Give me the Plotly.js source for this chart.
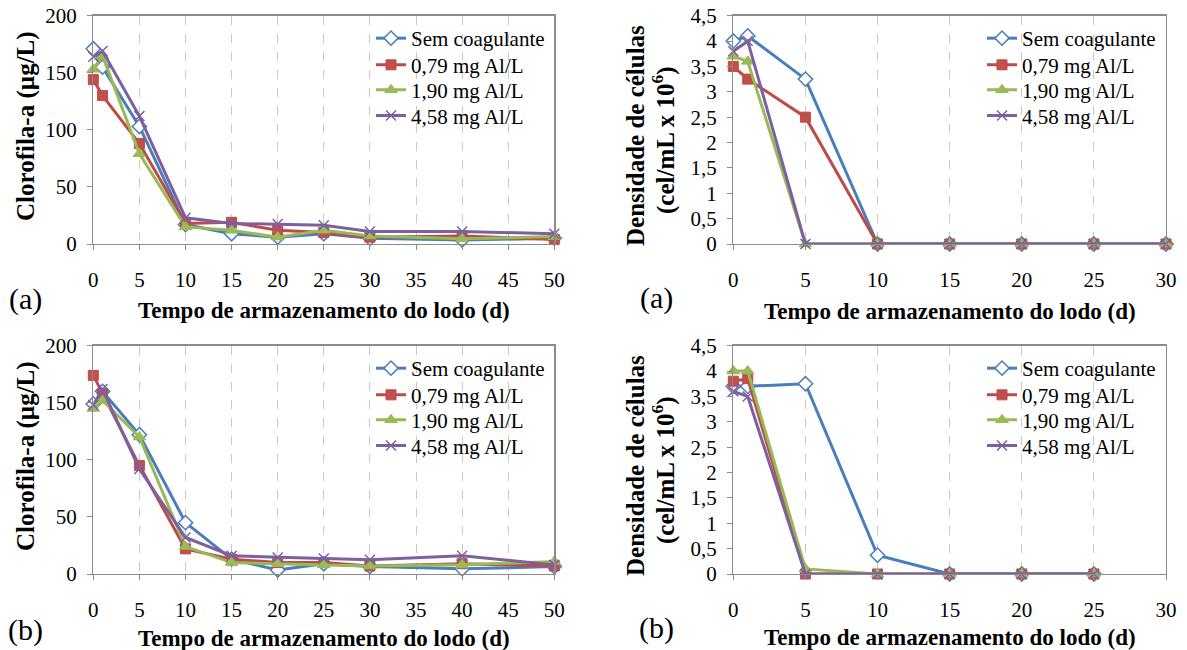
<!DOCTYPE html>
<html>
<head>
<meta charset="utf-8">
<script src="https://cdn.plot.ly/plotly-3.0.1.min.js"></script>
<style>html,body{margin:0;padding:0;background:#fff;}#chart{width:1187px;height:650px;}</style>
</head>
<body>
<div id="chart"></div>
<script>
// ---------- data ----------
const seriesNames = ["Sem coagulante", "0,79 mg Al/L", "1,90 mg Al/L", "4,58 mg Al/L"];

// Clorofila-a, panel (a)
const daysClorA = [0, 1, 5, 10, 15, 20, 25, 30, 40, 50];
const clorA_sem  = [171, 155, 103, 17, 9, 6, 9, 5, 3.5, 5];
const clorA_079  = [144, 130, 88, 18, 19, 12, 10, 6, 7, 4];
const clorA_190  = [153, 165, 79, 15, 12, 6, 12, 7, 4.5, 6.5];
const clorA_458  = [164, 169, 112, 23, 18, 17.5, 16.5, 11, 11, 9];

// Clorofila-a, panel (b)
const daysClorB = [0, 1, 5, 10, 15, 20, 25, 30, 40, 50];
const clorB_sem  = [149, 160, 122, 45, 13, 3.5, 9, 6.5, 4.5, 6.5];
const clorB_079  = [174, 158, 95, 22, 13, 10, 10, 7, 9, 7];
const clorB_190  = [145, 152, 120, 24, 10, 9, 8, 7, 8, 11];
const clorB_458  = [148, 162, 92, 32, 16, 14.5, 13.5, 12.5, 16, 8];

// Densidade de células, panel (a)
const daysCelA = [0, 1, 5, 10, 15, 20, 25, 30];
const celA_sem  = [4.0, 4.1, 3.25, 0, 0, 0, 0, 0];
const celA_079  = [3.5, 3.25, 2.5, 0, 0, 0, 0, 0];
const celA_190  = [3.7, 3.6, 0, 0, 0, 0, 0, 0];
const celA_458  = [3.8, 4.0, 0, 0, 0, 0, 0, 0];

// Densidade de células, panel (b)
const daysCelB = [0, 1, 5, 10, 15, 20, 25];
const celB_sem  = [3.7, 3.7, 3.75, 0.37, 0, 0, 0];
const celB_079  = [3.8, 3.85, 0, 0, 0, 0, 0];
const celB_190  = [4.0, 4.0, 0.1, 0, 0, 0, 0];
const celB_458  = [3.6, 3.5, 0, 0, 0, 0, 0];

const xTitle = "Tempo de armazenamento do lodo (d)";
const yTitleClor = "Clorofila-a (µg/L)";
const yTitleCel1 = "Densidade de células";
const yTitleCel2 = "(cel/mL x 10<sup>6</sup>)";

// ---------- styles ----------
const W = 1187, H = 650;
const FONT = "'Liberation Serif', 'Times New Roman', Times, serif";
const lineColors = ["#4A7EBB", "#BE4B48", "#98B954", "#7D60A0"];
const markers = [
  {symbol: "diamond", size: 11, color: "#ffffff", line: {color: "#4A7EBB", width: 1.5}},
  {symbol: "square", size: 10, color: "#C0504D", line: {color: "#BE4B48", width: 1}},
  {symbol: "triangle-up", size: 11, color: "#9BBB59", line: {color: "#98B954", width: 1}},
  {symbol: "x-thin-open", size: 10, color: "#7D60A0", line: {color: "#7D60A0", width: 1.5}}
];

function px(x) { return x / W; }
function py(y) { return 1 - y / H; }

// legend rows (pixel centers) for top panels; bottom panels are +330
const legRowY = [40, 66.7, 91.7, 117.3];

const panels = [
  {x: daysClorA, ys: [clorA_sem, clorA_079, clorA_190, clorA_458], xa: "x", ya: "y", lx: 371, dy: 0},
  {x: daysCelA, ys: [celA_sem, celA_079, celA_190, celA_458], xa: "x2", ya: "y2", lx: 982, dy: 0},
  {x: daysClorB, ys: [clorB_sem, clorB_079, clorB_190, clorB_458], xa: "x3", ya: "y3", lx: 371, dy: 330},
  {x: daysCelB, ys: [celB_sem, celB_079, celB_190, celB_458], xa: "x4", ya: "y4", lx: 982, dy: 330}
];

const LEGFONT = 21;
function legendDef(xPix, yCenter) {
  return {
    x: px(xPix), y: py(yCenter - 22), xanchor: "left", yanchor: "top",
    bgcolor: "rgba(0,0,0,0)", borderwidth: 0, tracegroupgap: 0,
    itemwidth: 30, font: {family: FONT, size: LEGFONT, color: "#000"}
  };
}

const traces = [];
const legends = {};
let li = 0;
panels.forEach(p => {
  p.ys.forEach((ys, i) => {
    li++;
    const key = li === 1 ? "legend" : "legend" + li;
    legends[key] = legendDef(p.lx, legRowY[i] + p.dy);
    traces.push({
      type: "scatter", mode: "lines+markers",
      x: p.x, y: ys, name: seriesNames[i],
      xaxis: p.xa, yaxis: p.ya, legend: key,
      line: {color: lineColors[i], width: 3},
      marker: markers[i],
      cliponaxis: false
    });
  });
});

const TICKFONT = 21;
function xaxisDef(domain, range, anchor) {
  return {
    domain: domain, range: range, anchor: anchor, dtick: 5, tick0: 0,
    showgrid: true, gridcolor: "#c8c8c8", griddash: "dash", gridwidth: 1,
    showline: true, linecolor: "#8c8c8c", linewidth: 1.3, mirror: true,
    ticks: "outside", ticklen: 5, tickcolor: "#8c8c8c",
    zeroline: false, ticklabelstandoff: 11,
    tickfont: {family: FONT, size: TICKFONT, color: "#000"}, fixedrange: true
  };
}
function yaxisDef(domain, range, dtick, anchor) {
  return {
    domain: domain, range: range, anchor: anchor, dtick: dtick, tick0: 0,
    showgrid: false, showline: true, linecolor: "#8c8c8c", linewidth: 1.3, mirror: true,
    ticks: "outside", ticklen: 5, tickcolor: "#8c8c8c",
    zeroline: false, ticklabelstandoff: 6,
    tickfont: {family: FONT, size: TICKFONT, color: "#000"}, fixedrange: true
  };
}

const dxL = [px(93.3), px(554.3)];
const dxR = [px(733.3), px(1166)];
const dyT = [py(244), py(15.7)];
const dyB = [py(574), py(345.7)];

function ann(text, x, y, size, bold, angle) {
  return {
    text: bold ? "<b>" + text + "</b>" : text,
    x: px(x), y: py(y), xref: "paper", yref: "paper",
    xanchor: "center", yanchor: "middle", showarrow: false,
    textangle: angle || 0,
    font: {family: FONT, size: size, color: "#000"}
  };
}

const layout = Object.assign({
  width: W, height: H,
  font: {family: FONT, size: 19, color: "#000"},
  margin: {l: 0, r: 0, t: 0, b: 0},
  paper_bgcolor: "#fff", plot_bgcolor: "#fff",
  separators: ",.",
  showlegend: true,
  xaxis: xaxisDef(dxL, [0, 50], "y"),
  yaxis: yaxisDef(dyT, [0, 200], 50, "x"),
  xaxis2: xaxisDef(dxR, [0, 30], "y2"),
  yaxis2: yaxisDef(dyT, [0, 4.5], 0.5, "x2"),
  xaxis3: xaxisDef(dxL, [0, 50], "y3"),
  yaxis3: yaxisDef(dyB, [0, 200], 50, "x3"),
  xaxis4: xaxisDef(dxR, [0, 30], "y4"),
  yaxis4: yaxisDef(dyB, [0, 4.5], 0.5, "x4"),
  annotations: [
    ann(xTitle, 324, 310, 23, true),
    ann(xTitle, 950, 311, 23, true),
    ann(xTitle, 324, 638, 23, true),
    ann(xTitle, 950, 637, 23, true),
    ann("(a)", 25, 299, 30, false),
    ann("(a)", 656, 298, 30, false),
    ann("(b)", 25, 630, 30, false),
    ann("(b)", 656, 628, 30, false),
    ann(yTitleClor, 26, 126, 25, true, -90),
    ann(yTitleClor, 26, 456, 25, true, -90),
    ann(yTitleCel1, 635, 136, 25, true, -90),
    ann(yTitleCel2, 663, 140, 25, true, -90),
    ann(yTitleCel1, 635, 466, 25, true, -90),
    ann(yTitleCel2, 663, 470, 25, true, -90)
  ]
}, legends);

Plotly.newPlot("chart", traces, layout, {staticPlot: true, displayModeBar: false});
</script>
</body>
</html>
